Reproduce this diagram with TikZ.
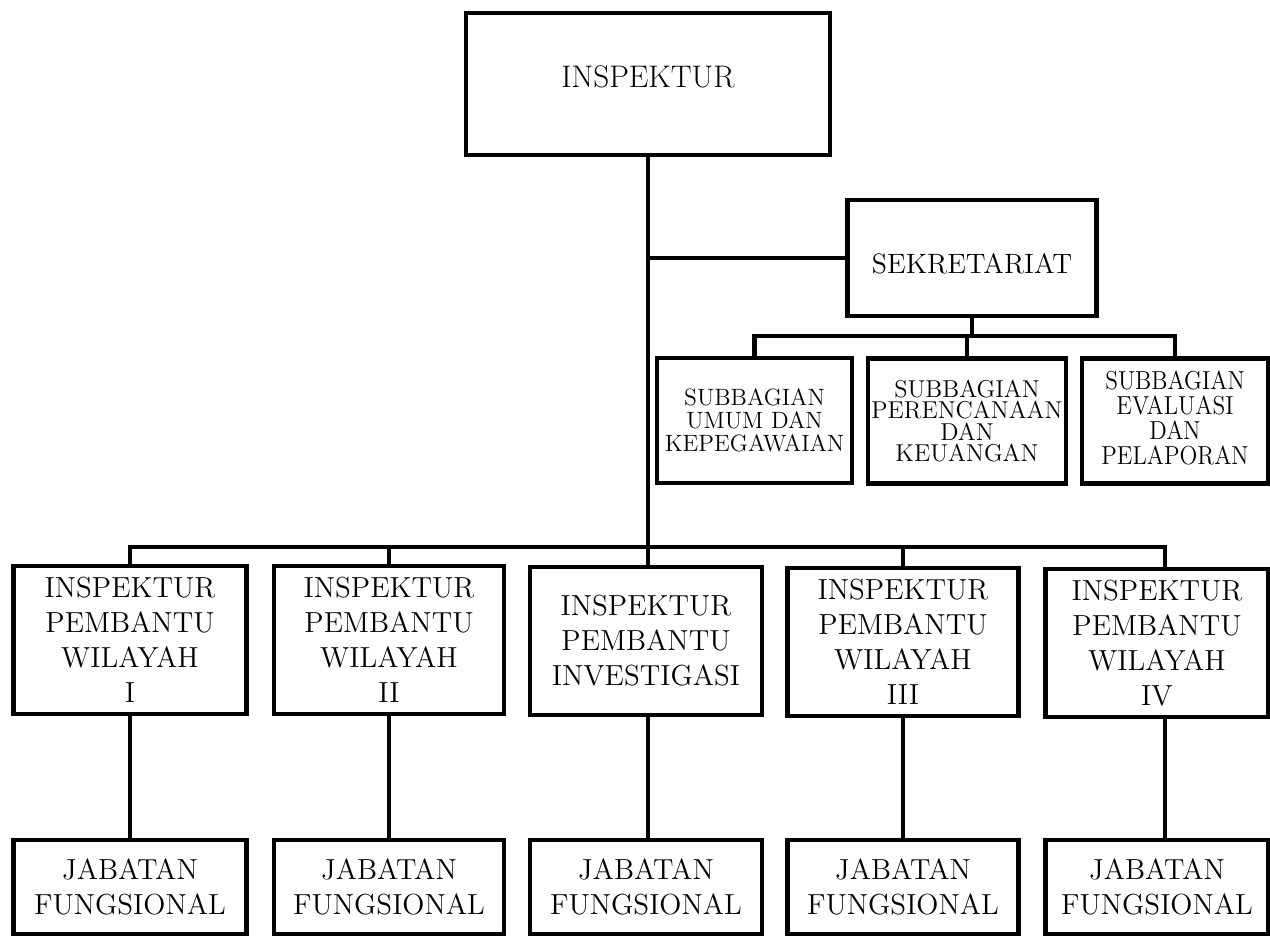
\documentclass[tikz,border=0pt]{standalone}
\usepackage{graphicx}
\begin{document}
\begin{tikzpicture}[x=0.5pt,y=-0.5pt,
  box/.style={draw, rectangle, line width=2.2pt, inner sep=0pt, align=center},
  conn/.style={line width=2.2pt},
  lvltwo/.style={box, minimum width=115pt, minimum height=74pt, font=\fontsize{14.5}{17.5}\selectfont},
  jab/.style={box, minimum width=115pt, minimum height=47pt, font=\fontsize{14.5}{17.5}\selectfont}]
\useasboundingbox (0,0) rectangle (1270,939);
% top
\node[box, minimum width=182pt, minimum height=71pt, text depth=7pt, font=\fontsize{15.6}{18}\selectfont] (insp) at (648,84) {INSPEKTUR};
\node[box, minimum width=124.5pt, minimum height=58pt, text height=15.6pt, text depth=0pt, font=\fontsize{14}{17}\selectfont] (sek) at (972,258) {SEKRETARIAT};
% subbagian
\node[box, minimum width=97.5pt, minimum height=62.5pt, font=\fontsize{11.8}{11.6}\selectfont] (s1) at (754.5,420.5) {SUBBAGIAN\\UMUM DAN\\KEPEGAWAIAN};
\node[box, minimum width=99pt, minimum height=62.5pt, font=\fontsize{12.2}{10.8}\selectfont] (s2) at (967,421) {SUBBAGIAN\\PERENCANAAN\\DAN\\KEUANGAN};
\node[box, minimum width=93pt, minimum height=62.5pt, font=\fontsize{13}{10.8}\selectfont] (s3) at (1175,421)
  {\scalebox{0.9}[1]{\begin{tabular}{@{}c@{}}SUBBAGIAN\\EVALUASI\\DAN\\PELAPORAN\end{tabular}}};
% level two
\node[lvltwo, minimum width=116.5pt] (p1) at (130,640) {INSPEKTUR\\PEMBANTU\\WILAYAH\\I};
\node[lvltwo, minimum width=115pt] (p2) at (389,640) {INSPEKTUR\\PEMBANTU\\WILAYAH\\II};
\node[lvltwo, minimum width=116pt] (p3) at (646,641) {INSPEKTUR\\PEMBANTU\\INVESTIGASI};
\node[lvltwo, minimum width=115.5pt] (p4) at (903,642) {INSPEKTUR\\PEMBANTU\\WILAYAH\\III};
\node[lvltwo, minimum width=111.5pt] (p5) at (1157,643) {INSPEKTUR\\PEMBANTU\\WILAYAH\\IV};
% jabatan
\node[jab, minimum width=116.5pt] (j1) at (130,887) {JABATAN\\FUNGSIONAL};
\node[jab, minimum width=115pt] (j2) at (389,887) {JABATAN\\FUNGSIONAL};
\node[jab, minimum width=116pt] (j3) at (646,887) {JABATAN\\FUNGSIONAL};
\node[jab, minimum width=115.5pt] (j4) at (903,887) {JABATAN\\FUNGSIONAL};
\node[jab, minimum width=111.5pt] (j5) at (1157,887) {JABATAN\\FUNGSIONAL};
% connectors
\coordinate (busM) at (648,547);
\coordinate (busS) at (972,336);
\draw[conn] (insp.south) -- (insp.south |- p3.north);
\draw[conn] (insp.south |- sek.west) -- (sek.west);
\draw[conn] (sek.south) -- (busS);
\draw[conn] (s1.north) |- (busS) -| (s3.north);
\draw[conn] (s2.north) -- (s2.north |- busS);
\draw[conn] (p1.north) |- (busM) -| ([xshift=4pt]p5.north);
\draw[conn] (p2.north) -- (p2.north |- busM);
\draw[conn] (p4.north) -- (p4.north |- busM);
\draw[conn] (p1.south) -- (j1.north);
\draw[conn] (p2.south) -- (j2.north);
\draw[conn] (insp.south |- p3.south) -- (insp.south |- j3.north);
\draw[conn] (p4.south) -- (j4.north);
\draw[conn] ([xshift=4pt]p5.south) -- ([xshift=4pt]j5.north);
\end{tikzpicture}
\end{document}
